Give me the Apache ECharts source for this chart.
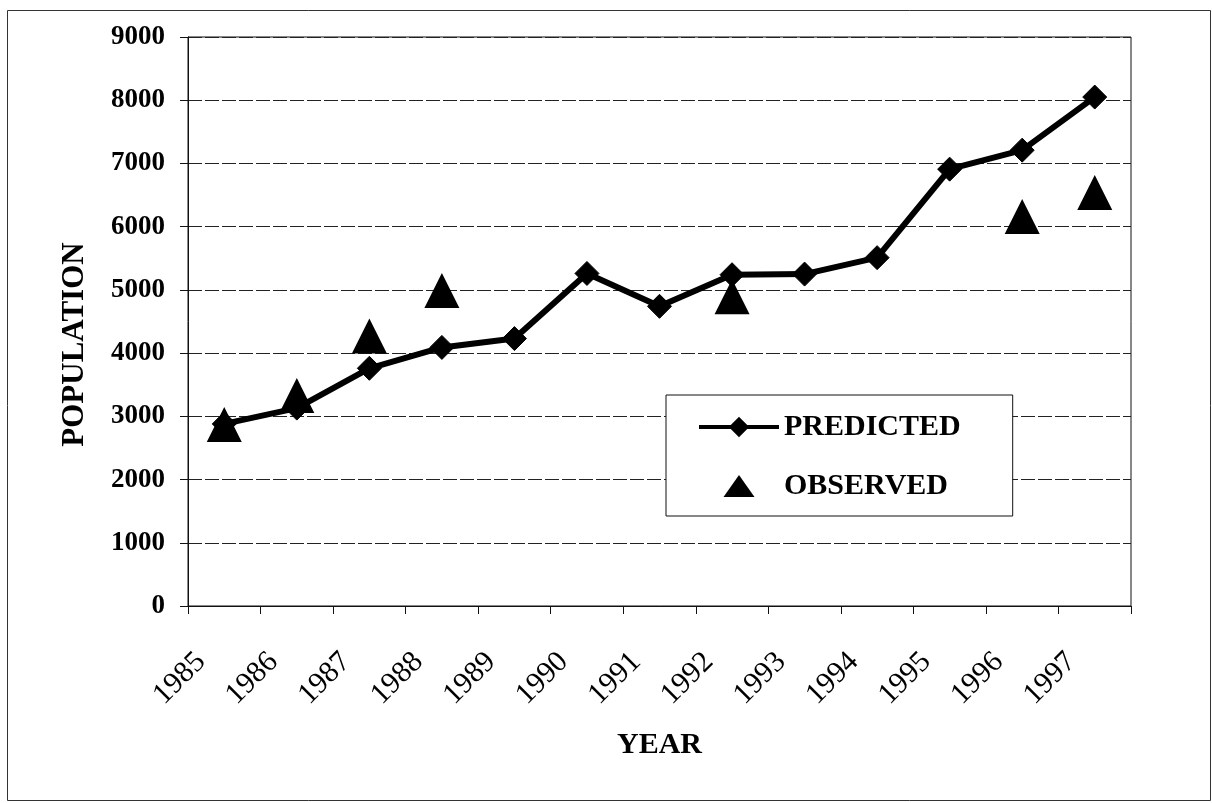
<!DOCTYPE html>
<html>
<head>
<meta charset="utf-8">
<script src="https://cdn.jsdelivr.net/npm/echarts@6/dist/echarts.min.js"></script>
<style>
html,body{margin:0;padding:0;background:#fff;}
#chart{width:1212px;height:803px;}
</style>
</head>
<body>
<div id="chart"></div>
<script>
var years = ['1985','1986','1987','1988','1989','1990','1991','1992','1993','1994','1995','1996','1997'];
var predicted = [2880, 3130, 3760, 4090, 4230, 5260, 4740, 5240, 5250, 5510, 6910, 7210, 8050];
var observed = [2870, 3330, 4270, 4990, null, null, null, 4890, null, null, null, 6160, 6540];
var yTicks = {min: 0, max: 9000, interval: 1000};

var FONT = 'Liberation Serif';
var chart = echarts.init(document.getElementById('chart'), null, {renderer: 'canvas'});
chart.setOption({
  animation: false,
  backgroundColor: '#fff',
  graphic: [{
    type: 'rect', silent: true, z: -10,
    shape: {x: 7.5, y: 10.5, width: 1203, height: 790},
    style: {fill: 'none', stroke: '#333', lineWidth: 1}
  }],
  grid: {left: 188, top: 37, right: 81, bottom: 197, show: true, borderColor: '#111', borderWidth: 1, backgroundColor: 'transparent'},
  legend: {
    orient: 'vertical',
    left: 666, top: 395,
    padding: [17, 52, 15, 31],
    itemWidth: 80, itemHeight: 22, itemGap: 29,
    backgroundColor: '#fff',
    borderColor: '#111', borderWidth: 1, borderRadius: 0,
    lineStyle: {width: 4},
    textStyle: {fontFamily: FONT, fontWeight: 'bold', fontSize: 30, color: '#000'},
    data: [
      {name: 'PREDICTED'},
      {name: 'OBSERVED', icon: 'path://M15.5,0L31,22L0,22Z', itemStyle: {color: '#000', opacity: 1}}
    ]
  },
  xAxis: {
    type: 'category',
    data: years,
    boundaryGap: true,
    name: 'YEAR',
    nameLocation: 'middle',
    nameGap: 124,
    nameTextStyle: {fontFamily: FONT, fontWeight: 'bold', fontSize: 30, color: '#000'},
    axisLine: {show: true, lineStyle: {color: '#111', width: 1}},
    axisTick: {show: true, inside: false, length: 8, interval: 0, lineStyle: {color: '#111'}},
    axisLabel: {interval: 0, rotate: 45, margin: 28, padding: [0, 33, 0, 0], fontFamily: FONT, fontSize: 30, color: '#000'},
    splitLine: {show: false}
  },
  yAxis: {
    type: 'value',
    min: yTicks.min, max: yTicks.max, interval: yTicks.interval,
    name: 'POPULATION',
    nameLocation: 'middle',
    nameGap: 98,
    nameTextStyle: {fontFamily: FONT, fontWeight: 'bold', fontSize: 31, color: '#000', padding: [0, 46, 0, 0]},
    axisLine: {show: true, lineStyle: {color: '#111', width: 1}},
    axisTick: {show: true, inside: false, length: 8, lineStyle: {color: '#111'}},
    axisLabel: {margin: 23, fontFamily: FONT, fontWeight: 'bold', fontSize: 27, color: '#000', formatter: function (v) { return String(v); }},
    splitLine: {show: true, lineStyle: {color: '#222', width: 1, type: [14, 3]}}
  },
  series: [
    {
      name: 'PREDICTED', type: 'line', data: predicted,
      symbol: 'diamond', symbolSize: 24,
      itemStyle: {color: '#000', borderColor: '#000', borderWidth: 1},
      lineStyle: {color: '#000', width: 6},
      z: 2
    },
    {
      name: 'OBSERVED', type: 'scatter', data: observed,
      symbol: 'triangle', symbolSize: 35,
      itemStyle: {color: '#000', opacity: 1},
      z: 3
    }
  ]
});
</script>
</body>
</html>
